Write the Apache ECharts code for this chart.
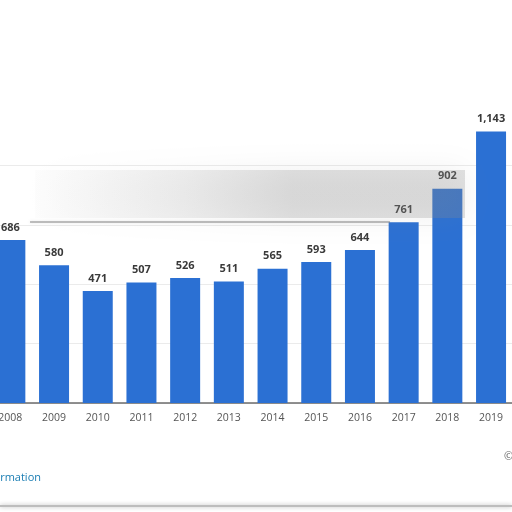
<!DOCTYPE html>
<html>
<head>
<meta charset="utf-8">
<script src="https://cdn.jsdelivr.net/npm/echarts@6/dist/echarts.min.js"></script>
<style>
html,body{margin:0;padding:0;background:#fff;}
#c{width:512px;height:512px;}
</style>
</head>
<body>
<div id="c"></div>
<script>
var years = ['2008','2009','2010','2011','2012','2013','2014','2015','2016','2017','2018','2019'];
var values = [686, 580, 471, 507, 526, 511, 565, 593, 644, 761, 902, 1143];
var yTicks = [0, 250, 500, 750, 1000, 1250];

var chart = echarts.init(document.getElementById('c'), null, {renderer: 'canvas'});
chart.setOption({
  animation: false,
  backgroundColor: '#ffffff',
  grid: {left: -11.5, width: 524.4, top: 106, bottom: 109, containLabel: false, outerBoundsMode: 'none'},
  xAxis: {
    type: 'category',
    data: years,
    axisTick: {show: false},
    axisLine: {lineStyle: {color: '#6b6b6b', width: 1.5}},
    axisLabel: {color: '#555', fontSize: 10.5, fontFamily: 'Open Sans', margin: 10}
  },
  yAxis: {
    type: 'value',
    min: yTicks[0],
    max: yTicks[yTicks.length - 1],
    interval: 250,
    axisLabel: {show: false},
    axisLine: {show: false},
    axisTick: {show: false},
    splitLine: {showMaxLine: false, lineStyle: {color: '#d6d6d6', type: 'dotted', width: 1}}
  },
  series: [{
    type: 'bar',
    data: values,
    barWidth: 30,
    itemStyle: {color: '#2b70d3'},
    label: {
      show: true,
      position: 'top',
      distance: 7,
      color: '#3a3a3a',
      fontWeight: 'bold',
      fontSize: 11,
      fontFamily: 'Open Sans',
      formatter: function (p) { return p.value.toLocaleString('en-US'); }
    }
  }],
  graphic: [
    {type: 'rect', z: 100, shape: {x: 35, y: 170, width: 430, height: 48},
     style: {fill: {type: 'linear', x: 0, y: 0, x2: 1, y2: 0, colorStops: [
       {offset: 0, color: 'rgba(140,140,140,0.02)'},
       {offset: 0.35, color: 'rgba(140,140,140,0.14)'},
       {offset: 0.6, color: 'rgba(140,140,140,0.26)'},
       {offset: 1, color: 'rgba(140,140,140,0.26)'}]},
       shadowBlur: 30, shadowColor: 'rgba(130,130,130,0.45)'}},
    {type: 'line', z: 100, shape: {x1: 30, y1: 222, x2: 390, y2: 222},
     style: {stroke: 'rgba(120,120,120,0.45)', lineWidth: 2, shadowBlur: 3, shadowColor: 'rgba(120,120,120,0.4)'}},
    {type: 'text', left: -75, top: 472, z: 100,
     style: {text: 'Additional Information', fill: '#1a7db3', font: '11px "Open Sans"', textAlign: 'left'}},
    {type: 'text', left: 504, top: 451, z: 100,
     style: {text: '© Statista 2021', fill: '#666', font: '11px "Open Sans"'}},
    {type: 'line', z: 100, shape: {x1: 0, y1: 506, x2: 512, y2: 506},
     style: {stroke: '#bdbdbd', lineWidth: 2, shadowBlur: 4, shadowColor: 'rgba(0,0,0,0.3)'}}
  ]
});
</script>
</body>
</html>
